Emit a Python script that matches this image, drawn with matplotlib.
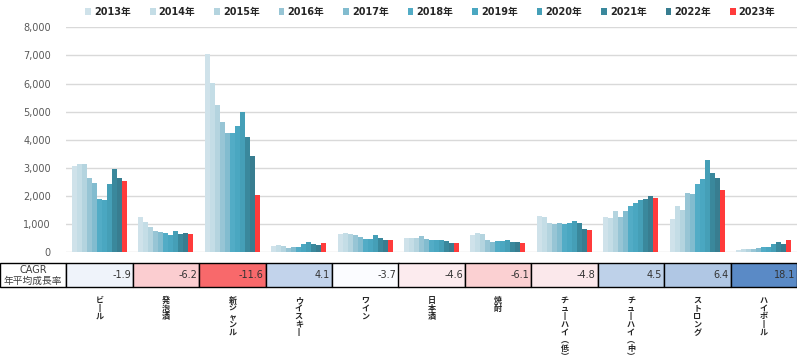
import matplotlib
matplotlib.use("Agg")
import matplotlib.pyplot as plt
from matplotlib.colors import LinearSegmentedColormap, TwoSlopeNorm
from matplotlib.patches import Rectangle
from matplotlib.transforms import blended_transform_factory

plt.rcParams["font.family"] = ["DejaVu Sans", "Noto Sans CJK JP"]

years = [f"{y}年" for y in range(2013, 2024)]
categories = ["ビール", "発泡酒", "新ジャンル", "ウイスキー", "ワイン", "日本酒",
              "焼酎", "チューハイ（低）", "チューハイ（中）", "ストロング", "ハイボール"]

# 2013..2023 の推移（カテゴリごと）
beer = [3070, 3140, 3130, 2630, 2460, 1910, 1860, 2430, 2970, 2640, 2550]
happoshu = [1270, 1080, 910, 760, 710, 675, 600, 770, 660, 690, 660]
new_genre = [7050, 6030, 5240, 4630, 4250, 4250, 4480, 4990, 4110, 3410, 2050]
whisky = [215, 260, 213, 166, 190, 200, 285, 355, 296, 260, 322]
wine = [663, 700, 650, 604, 533, 486, 486, 604, 521, 450, 455]
sake = [520, 521, 498, 580, 486, 427, 427, 427, 391, 320, 325]
shochu = [610, 675, 650, 450, 367, 391, 391, 438, 355, 355, 325]
chuhai_low = [1280, 1244, 1030, 1019, 1043, 995, 1043, 1102, 1055, 841, 785]
chuhai_mid = [1244, 1220, 1480, 1268, 1470, 1660, 1740, 1870, 1900, 2014, 1930]
strong = [1173, 1635, 1517, 2097, 2085, 2417, 2607, 3294, 2832, 2642, 2204]
highball = [85, 130, 130, 107, 166, 190, 200, 296, 355, 308, 450]
series = [beer, happoshu, new_genre, whisky, wine, sake, shochu,
          chuhai_low, chuhai_mid, strong, highball]

cagr = [-1.9, -6.2, -11.6, 4.1, -3.7, -4.6, -6.1, -4.8, 4.5, 6.4, 18.1]

colors = ["#cfe2ea", "#c4dde6", "#b4d4df", "#97c5d5", "#82bccf", "#52acc6",
          "#4aa7c1", "#459fb7", "#3a889c", "#387d90", "#ff3b3b"]

W, H = 797, 360
fig = plt.figure(figsize=(W / 100, H / 100), dpi=100)
ax = fig.add_axes([66 / W, 1 - 252.3 / H, 1 - 66 / W, (252.3 - 27.3) / H])

n = len(years)
bw = 5 / 66.45
for j, yr in enumerate(years):
    xs = [i + (j - (n - 1) / 2) * bw for i in range(len(categories))]
    vals = [s[j] for s in series]
    ax.bar(xs, vals, width=bw, color=colors[j], label=yr, zorder=3, linewidth=0)

ax.set_xlim(-0.5, len(categories) - 0.5)
ax.set_ylim(0, 8000)
ax.set_yticks(range(0, 8001, 1000))
ax.set_yticklabels([f"{v:,}" for v in range(0, 8001, 1000)])
ax.tick_params(axis="y", length=0, pad=11, labelsize=7, labelcolor="#595959")
ax.set_xticks([])
ax.grid(axis="y", color="#d9d9d9", linewidth=1, zorder=0)
for sp in ax.spines.values():
    sp.set_visible(False)

fig.legend(loc="upper center", bbox_to_anchor=(0.54, 1.005), ncol=n, frameon=False,
           prop={"size": 7, "weight": "bold"}, handlelength=0.6, handleheight=0.6,
           handletextpad=0.3, columnspacing=1.95, labelcolor="#262626")

# CAGR の表
at = fig.add_axes([0, 1 - 287 / H, 1, 24 / H])
at.set_xlim(-1.5, len(categories) - 0.5)
at.set_ylim(0, 1)
at.axis("off")
cmap = LinearSegmentedColormap.from_list("cagr", ["#F8696B", "#FCFCFF", "#5A8AC6"])
norm = TwoSlopeNorm(vmin=min(cagr), vcenter=sorted(cagr)[len(cagr) // 2], vmax=max(cagr))
at.add_patch(Rectangle((-1.5, 0), 1, 1, facecolor="white", edgecolor="black",
                       linewidth=1, clip_on=False))
at.text(-1.0, 0.72, "CAGR", ha="center", va="center", fontsize=7, color="#404040")
at.text(-1.0, 0.27, "年平均成長率", ha="center", va="center", fontsize=7,
        color="#404040", family=["Noto Sans CJK JP"])
for i, v in enumerate(cagr):
    at.add_patch(Rectangle((i - 0.5, 0), 1, 1, facecolor=cmap(norm(v)),
                           edgecolor="black", linewidth=1, clip_on=False))
    at.text(i + 0.47, 0.5, f"{v}", ha="right", va="center", fontsize=7, color="#333333")

# 縦書きのカテゴリ名
vert = {"ー": "丨", "（": "︵", "）": "︶"}
tr = blended_transform_factory(at.transData, fig.transFigure)
for i, c in enumerate(categories):
    s = "\n".join(vert.get(ch, ch) for ch in c)
    at.text(i, 1 - 296 / H, s, transform=tr, ha="center", va="top", fontsize=5.8,
            weight="bold", color="#262626", linespacing=0.86,
            family=["Noto Sans CJK JP"])

fig.savefig("out.png", dpi=100)
